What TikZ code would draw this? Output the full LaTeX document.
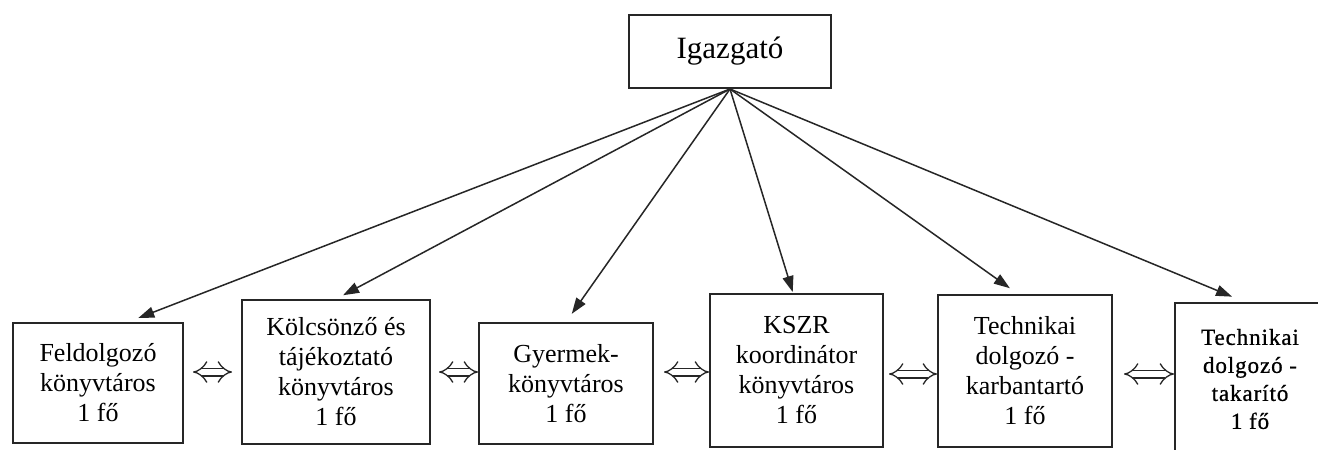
\documentclass[tikz,border=0pt]{standalone}
\usepackage{fontspec}
\setmainfont{Liberation Serif}
\newfontfamily\slabfont[FakeBold=0.8, LetterSpace=4]{Liberation Serif}
\usetikzlibrary{arrows.meta}
\tikzset{
  staffbox/.style={draw=black!85, line width=1pt, align=center, inner sep=0pt,
    font=\fontsize{13}{15}\selectfont},
  bossarrow/.style={draw=black!85, line width=0.75pt, -{Triangle[length=8pt,width=5.5pt]}},
  linkarrow/.style={draw=black!85, double=white, line width=0.65pt, double distance=3.2pt,
    {Implies[scale=1.3]}-{Implies[scale=1.3]}}
}
\begin{document}
\begin{tikzpicture}[x=0.5pt,y=-0.5pt]
\clip (0,0) rectangle (1318,450);
\fill[white] (0,0) rectangle (1318,450);

% vezeto
\node[staffbox, minimum width=101pt, minimum height=36.5pt,
  font=\fontsize{15.5}{18}\selectfont] (boss) at (730,51.5) {Igazgató};

% beosztottak
\node[staffbox, minimum width=85pt, minimum height=60pt] (feld) at (98,383)
  {Feldolgozó\\könyvtáros\\1 fő};
\node[staffbox, minimum width=94pt, minimum height=72pt] (kolcs) at (336,372)
  {Kölcsönző és\\tájékoztató\\könyvtáros\\1 fő};
\node[staffbox, minimum width=87pt, minimum height=60.5pt] (gyer) at (566,383.5)
  {Gyermek-\\könyvtáros\\1 fő};
\node[staffbox, minimum width=86.5pt, minimum height=76.5pt] (kszr) at (796.5,370.5)
  {KSZR\\koordinátor\\könyvtáros\\1 fő};
\node[staffbox, minimum width=87pt, minimum height=76pt] (karb) at (1025,371)
  {Technikai\\dolgozó -\\karbantartó\\1 fő};
\node[staffbox, minimum width=75pt, minimum height=76pt,
  font=\slabfont\fontsize{11.5}{14}\selectfont] (takar) at (1250,379)
  {Technikai\\dolgozó -\\takarító\\1 fő};

% nyilak a vezetotol
\draw[bossarrow, shorten >=5.5pt] (boss.south) -- ([xshift=15pt]feld.north);
\draw[bossarrow, shorten >=4pt] (boss.south) -- (kolcs.north);
\draw[bossarrow, shorten >=5pt] (boss.south) -- (gyer.north);
\draw[bossarrow, shorten >=0.5pt] (boss.south) -- ([xshift=-1.75pt]kszr.north);
\draw[bossarrow, shorten >=5pt] (boss.south) -- ([xshift=-3.5pt]karb.north);
\draw[bossarrow, shorten >=7pt] (boss.south) -- ([xshift=-2.5pt]takar.north);

% kapcsolatok
\draw[linkarrow, shorten <=4.5pt, shorten >=4.5pt] (feld.east |- 0,372) -- (kolcs.west |- 0,372);
\draw[linkarrow, shorten <=4pt] (kolcs.east |- 0,372) -- (gyer.west |- 0,372);
\draw[linkarrow, shorten <=5pt] (gyer.east |- 0,372) -- (kszr.west |- 0,372);
\draw[linkarrow, shorten <=2.5pt] (kszr.east |- 0,374) -- (karb.west |- 0,374);
\draw[linkarrow, shorten <=5.5pt] (karb.east |- 0,374) -- (takar.west |- 0,374);

\end{tikzpicture}
\end{document}
